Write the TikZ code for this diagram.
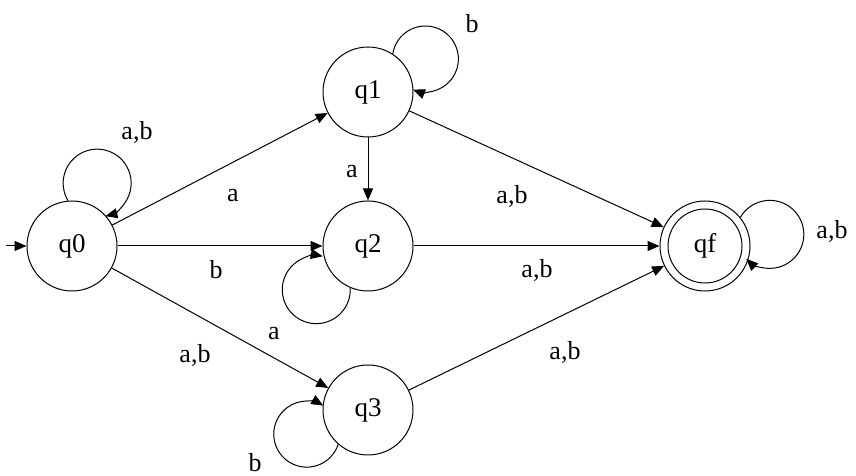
\documentclass[tikz,border=0pt]{standalone}
\usepackage{fontspec}
\setmainfont{Liberation Serif}
\usetikzlibrary{arrows.meta}
\begin{document}
\begin{tikzpicture}[x=1pt,y=1pt,
  every path/.style={line width=1pt},
  stnode/.style={circle,draw,line width=1pt,minimum size=90pt,inner sep=0pt,font=\fontsize{27}{30}\selectfont},
  lbl/.style={font=\fontsize{26}{30}\selectfont,inner sep=0pt},
  tr/.style={-{Triangle[length=12pt,width=10pt]}}]
\useasboundingbox (0,0) rectangle (856,476);
\fill[white] (0,0) rectangle (856,476);
\node[stnode] (q0) at (72,230) {q0};
\node[stnode] (q1) at (368,384) {q1};
\node[stnode] (q2) at (368,230) {q2};
\node[stnode] (q3) at (368,66) {q3};
\node[stnode] (qf) at (705,230) {qf};
\draw (qf.center) circle[radius=37pt];
\coordinate (init) at (6,230);
% edges
\draw[tr] (init) -- (q0);
\draw[tr] (q0) -- (q1);
\draw[tr] (q0) -- (q2);
\draw[tr] (q0) -- (q3);
\draw[tr] (q1) -- (q2);
\draw[tr] (q1) -- (qf);
\draw[tr] (q2) -- (qf);
\draw[tr] (q3) -- (qf);
% loops
\draw[tr] (q0.95) arc[start angle=211,end angle=-76,radius=34pt];
\draw[tr] (q1.57) arc[start angle=171,end angle=-112,radius=33pt];
\draw[tr] (q2.247) arc[start angle=3,end angle=-281,radius=34pt];
\draw[tr] (q3.229) arc[start angle=-18,end angle=-300,radius=33pt];
\draw[tr] (qf.39) arc[start angle=150,end angle=-134,radius=34pt];
% labels
\node[lbl] (l0) at (137,344) {a,b};
\node[lbl] (l1) at (472,452) {b};
\node[lbl] (l2) at (274,142) {a};
\node[lbl] (l3) at (255,13) {b};
\node[lbl] (l4) at (832,245) {a,b};
\node[lbl] (l5) at (233,280) {a};
\node[lbl] (l6) at (216,206) {b};
\node[lbl] (l7) at (352,304) {a};
\node[lbl] (l8) at (512,280) {a,b};
\node[lbl] (l9) at (537,206) {a,b};
\node[lbl] (l10) at (195,121) {a,b};
\node[lbl] (l11) at (565,124) {a,b};
\end{tikzpicture}
\end{document}
